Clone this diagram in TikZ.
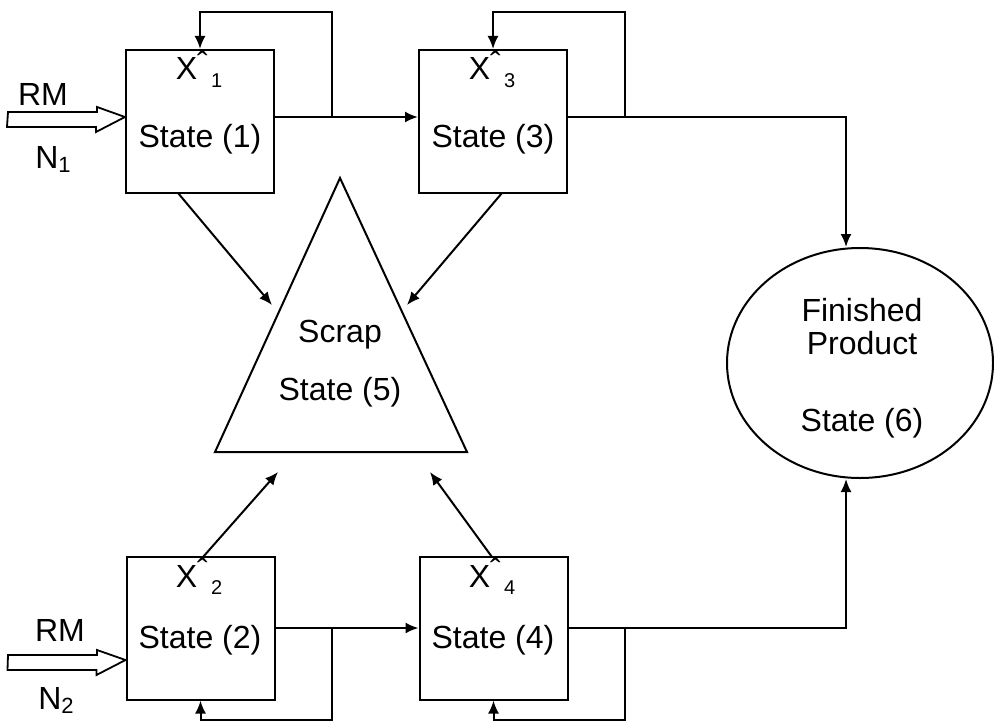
\documentclass[tikz,border=0pt]{standalone}
\usepackage{fontspec}
\setmainfont{Liberation Sans}
\usetikzlibrary{arrows.meta,shapes.geometric}
\begin{document}
\begin{tikzpicture}[x=0.5pt,y=-0.5pt, line width=1pt,
  statebox/.style={draw, minimum width=74pt, minimum height=71.5pt, inner sep=0pt},
  lbl/.style={font=\fontsize{16}{19}\selectfont, inner sep=0pt, anchor=base},
  arr/.style={-{Latex[length=6.5pt,width=5.5pt]}},
  hollow/.style={draw, line width=0.9pt, fill=white},
]
\useasboundingbox (0,0) rectangle (994,722);
\newcommand{\xhat}[1]{X\raisebox{0.18em}[0pt][0pt]{ˆ}\raisebox{-0.22em}{\fontsize{10}{11}\selectfont\,#1}}

% boxes
\node[statebox] (s1) at (200,121.5) {};
\node[statebox] (s3) at (493,121.5) {};
\node[statebox] (s2) at (200.5,628) {};
\node[statebox] (s4) at (493.5,628) {};

% texts in boxes
\node[lbl] (t1) at (200,148) {State (1)};
\node[lbl] (t3) at (493,148) {State (3)};
\node[lbl] (t2) at (200,648) {State (2)};
\node[lbl] (t4) at (493,648) {State (4)};
\node[lbl] (x1) at (199,80) {\xhat{1}};
\node[lbl] (x3) at (492,80) {\xhat{3}};
\node[lbl] (x2) at (199,587) {\xhat{2}};
\node[lbl] (x4) at (492,587) {\xhat{4}};

% scrap triangle
\coordinate (apex) at (340,178);
\coordinate (bl) at (215,452);
\coordinate (br) at (467,452);
\draw (apex) -- (bl) -- (br) -- cycle;
\node[lbl] (scrap) at (340,342) {Scrap};
\node[lbl] (s5) at (340,400) {State (5)};

% finished product ellipse
\node[draw, ellipse, minimum width=133pt, minimum height=115pt, inner sep=0pt] (fp) at (860,363) {};
\node[lbl] (f1) at (862,321) {Finished};
\node[lbl] (f2) at (862,354) {Product};
\node[lbl] (f3) at (862,431) {State (6)};

% RM inputs
\node[lbl] (rm1) at (43,105) {RM};
\node[lbl] (n1) at (53,168) {N\raisebox{-0.15em}{\fontsize{11}{12}\selectfont 1}};
\node[lbl] (rm2) at (60,641) {RM};
\node[lbl] (n2) at (56,709) {N\raisebox{-0.15em}{\fontsize{11}{12}\selectfont 2}};
\coordinate (in1) at (8,117);
\coordinate (in2) at (8,660);
\draw[hollow] (in1) ++(0,-5) -- ++(89,0) -- ++(0,-5) -- (s1.west |- in1) -- ++(-29,15) -- ++(0,-5) -- ++(-89,0) -- cycle;
\draw[hollow] (in2) ++(0,-5) -- ++(89,0) -- ++(0,-5) -- (s2.west |- in2) -- ++(-29,15) -- ++(0,-5) -- ++(-89,0) -- cycle;

% flows top
\draw[arr] ([yshift=2.25pt]s1.east) -- ([yshift=2.25pt]s3.west);
\draw[arr] ([yshift=2.25pt]s1.east) -| (332,12) -| (s1.north);
\draw[arr] ([yshift=2.25pt]s3.east) -| (625,12) -| (s3.north);
\draw[arr] ([yshift=2.25pt]s3.east) -| ([xshift=-7pt]fp.north);

% flows bottom
\draw[arr] (s2.east) -- (s4.west);
\draw[arr] (s2.east) -| (332,720) -| (s2.south);
\draw[arr] (s4.east) -| (625,720) -| (s4.south);
\draw[arr] (s4.east) -| ([xshift=-7pt]fp.south);

% to scrap
\coordinate (a1) at (272,305);
\coordinate (a3) at (407,305);
\coordinate (a2) at (278,472);
\coordinate (a4) at (430,472);
\draw[arr] (178,193) -- (a1);
\draw[arr] (502,193) -- (a3);
\draw[arr] (203,557) -- (a2);
\draw[arr] (492,557) -- (a4);
\end{tikzpicture}
\end{document}
